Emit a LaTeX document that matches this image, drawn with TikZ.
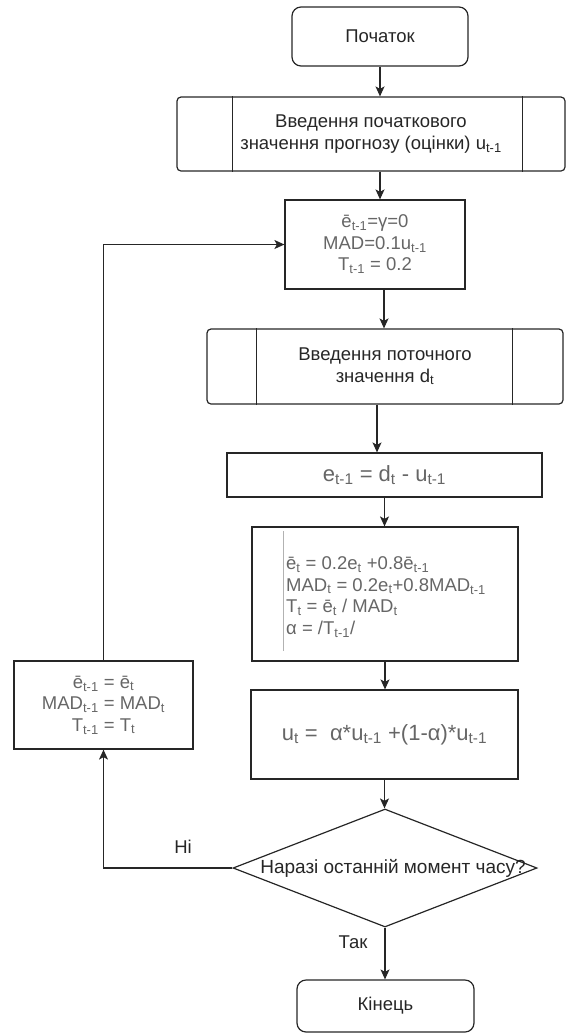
\documentclass[tikz,border=0pt]{standalone}
\usepackage{fontspec}
\setmainfont{Liberation Sans}
\usetikzlibrary{shapes.geometric,arrows.meta,calc}
\definecolor{linec}{HTML}{262626}
\definecolor{txtc}{HTML}{262626}
\definecolor{frmc}{HTML}{666666}
\tikzset{
  base/.style={draw=linec, line width=1.2pt, align=center, inner sep=0pt,
    font=\fontsize{18.5}{21.5}\selectfont, text=txtc},
  term/.style={base, rounded corners=9pt},
  subp/.style={base, rounded corners=4pt},
  proc/.style={base},
  frm/.style={text=frmc},
  bigfrm/.style={text=frmc, font=\fontsize{22}{26}\selectfont},
  lbl/.style={inner sep=0pt, font=\fontsize{18.5}{21.5}\selectfont, text=txtc},
  arr/.style={line width=1.2pt, draw=linec, -{Stealth[length=10pt,width=9pt,inset=2.5pt]}},
  inner/.style={line width=1.2pt, draw=linec},
}
\begin{document}
\begin{tikzpicture}[x=1pt,y=-1pt]
\useasboundingbox (0,0) rectangle (566,1034);
% nodes
\node[term, minimum width=176pt, minimum height=59pt] (start) at (380,36.5) {Початок};
\node[subp, minimum width=388pt, minimum height=74pt] (in1) at (371,134)
  {Введення початкового\\значення прогнозу (оцінки) u\textsubscript{t-1}};
\draw[inner] ([xshift=56pt]in1.north west) -- ([xshift=56pt]in1.south west);
\draw[inner] ([xshift=-43pt]in1.north east) -- ([xshift=-43pt]in1.south east);
\node[proc, frm, minimum width=180pt, minimum height=89pt] (init) at (375,244.5)
  {ē\textsubscript{t-1}=γ=0\\MAD=0.1u\textsubscript{t-1}\\T\textsubscript{t-1} = 0.2};
\node[subp, minimum width=356pt, minimum height=75pt] (in2) at (385,366.5)
  {Введення поточного\\значення d\textsubscript{t}};
\draw[inner] ([xshift=50pt]in2.north west) -- ([xshift=50pt]in2.south west);
\draw[inner] ([xshift=-51pt]in2.north east) -- ([xshift=-51pt]in2.south east);
\node[proc, bigfrm, minimum width=315pt, minimum height=44pt] (ebox) at (384.5,475)
  {e\textsubscript{t-1} = d\textsubscript{t} - u\textsubscript{t-1}};
\node[proc, minimum width=266pt, minimum height=134pt] (calc) at (385,594) {};
\node[lbl, frm, anchor=west, align=left] (calctxt) at (286,597)
  {ē\textsubscript{t} = 0.2e\textsubscript{t} +0.8ē\textsubscript{t-1}\\
   MAD\textsubscript{t} = 0.2e\textsubscript{t}+0.8MAD\textsubscript{t-1}\\
   T\textsubscript{t} = ē\textsubscript{t} / MAD\textsubscript{t}\\
   α = /T\textsubscript{t-1}/};
\draw[black!30, line width=0.8pt] ([xshift=32pt,yshift=-5pt]calc.north west) -- ([xshift=32pt,yshift=11pt]calc.south west);
\node[proc, bigfrm, minimum width=267pt, minimum height=89pt] (ubox) at (384.5,734.5)
  {u\textsubscript{t} = \ α*u\textsubscript{t-1} +(1-α)*u\textsubscript{t-1}};
\node[base, diamond, minimum width=304pt, minimum height=118pt] (dia) at (385,868) {};
\node[lbl, font=\fontsize{19}{22}\selectfont] (diatxt) at ([xshift=8pt]dia.center) {Наразі останній момент часу?};
\node[term, minimum width=177pt, minimum height=52pt] (end) at (385.5,1006) {Кінець};
\node[proc, frm, minimum width=179pt, minimum height=88pt] (upd) at (103.5,705)
  {ē\textsubscript{t-1} = ē\textsubscript{t}\\MAD\textsubscript{t-1} = MAD\textsubscript{t}\\T\textsubscript{t-1} = T\textsubscript{t}};
\node[lbl] (ni) at (183,847) {Ні};
\node[lbl] (tak) at (353,942) {Так};
% connectors
\draw[arr] (start.south) -- (start.south |- in1.north);
\draw[arr] (in1.south -| start.south) -- (init.north -| start.south);
\draw[arr] ([xshift=9pt]init.south) -- ([xshift=9pt]init.south |- in2.north);
\draw[arr] ([xshift=-8pt]in2.south) -- ([xshift=-8pt]in2.south |- ebox.north);
\draw[arr] (ebox.south) -- (ebox.south |- calc.north);
\draw[arr] (calc.south) -- (calc.south |- ubox.north);
\draw[arr] (ubox.south) -- (ubox.south |- dia.north);
\draw[arr] (dia.south) -- (dia.south |- end.north);
\draw[arr] (dia.west) -| (upd.south);
\draw[arr] (upd.north) |- (init.west);
\end{tikzpicture}
\end{document}
